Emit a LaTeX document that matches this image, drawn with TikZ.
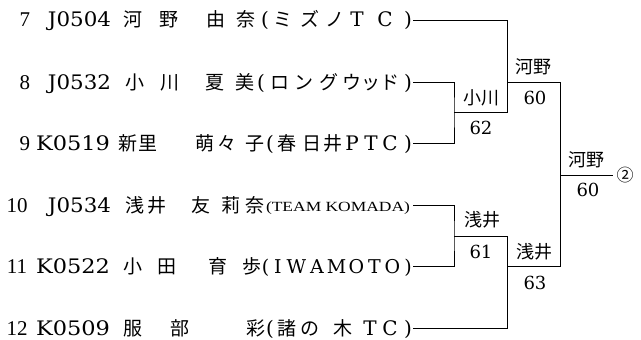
\documentclass[tikz,border=0pt]{standalone}
\usepackage{fontspec}
\usepackage{graphicx}
\setmainfont{DejaVu Serif}
\newfontfamily\jpf{Noto Sans CJK JP}
\newfontfamily\tms{Liberation Serif}
\newcommand\fitw[2]{\resizebox{#1pt}{\height}{#2}}
\tikzset{
  bs/.style={inner sep=0pt, outer sep=0pt, anchor=base},
  jp/.style={bs, font=\jpf\fontsize{19}{19}\selectfont},
  lt/.style={bs, font=\fontsize{20}{20}\selectfont},
  lts/.style={bs, font=\fontsize{19}{19}\selectfont},
  nm/.style={bs, font=\tms\fontsize{21}{21}\selectfont},
  seg/.style={inner sep=0pt, outer sep=0pt, anchor=base west, font=\fontsize{20}{20}\selectfont},
  lbj/.style={inner sep=0pt, font=\jpf\fontsize{18}{18}\selectfont},
  lbn/.style={inner sep=0pt, font=\fontsize{18}{18}\selectfont},
  wire/.style={line width=0.8pt}
}
\begin{document}
\begin{tikzpicture}[x=1pt,y=-1pt]
\path[use as bounding box] (0,0) rectangle (641,340);
% row 7
\node[nm] (n7no) at (25,27) {7};
\node[seg] (n7id) at (48,27) {\fitw{63}{J0504}};
\foreach \x/\c [count=\i] in {133/河,169/野,216/由,246/奈,283/ミ,310/ズ,335/ノ}
  \node[jp] (n7j\i) at (\x,27) {\c};
\foreach \x/\c [count=\i] in {265/(,357/T,385/C,408/)}
  \node[lt] (n7l\i) at (\x,27) {\c};
% row 8
\node[nm] (n8no) at (25,89) {8};
\node[seg] (n8id) at (48,89) {\fitw{63}{J0532}};
\foreach \x/\c [count=\i] in {135/小,170/川,215/夏,245/美,280/ロ,304/ン,329/グ,352/ウ,371/ッ,390/ド}
  \node[jp] (n8j\i) at (\x,89) {\c};
\foreach \x/\c [count=\i] in {261/(,408/)}
  \node[lt] (n8l\i) at (\x,89) {\c};
% row 9
\node[nm] (n9no) at (25,150) {9};
\node[seg] (n9id) at (36,150) {\fitw{74}{K0519}};
\foreach \x/\c [count=\i] in {128/新,148/里,205/萌,227/々,255/子,287/春,312/日,333/井}
  \node[jp] (n9j\i) at (\x,150) {\c};
\foreach \x/\c [count=\i] in {270/(,352/P,371/T,390/C,408/)}
  \node[lt] (n9l\i) at (\x,150) {\c};
% row 10
\node[nm] (n10no) at (17,212) {10};
\node[seg] (n10id) at (48,212) {\fitw{63}{J0534}};
\foreach \x/\c [count=\i] in {135/浅,157/井,201/友,231/莉,255/奈}
  \node[jp] (n10j\i) at (\x,212) {\c};
\node[seg, font=\tms\fontsize{14}{14}\selectfont] (n10club) at (266,211) {\fitw{144}{(TEAM KOMADA)}};
% row 11
\node[nm] (n11no) at (17,273) {11};
\node[seg] (n11id) at (36,273) {\fitw{74}{K0522}};
\foreach \x/\c [count=\i] in {133/小,167/田,218/育,252/歩}
  \node[jp] (n11j\i) at (\x,273) {\c};
\foreach \x/\c [count=\i] in {265.5/(,278/I,296.5/W,317/A,336.5/M,356.5/O,374.5/T,392.5/O,408/)}
  \node[lts] (n11l\i) at (\x,273) {\c};
% row 12
\node[nm] (n12no) at (17,335) {12};
\node[seg] (n12id) at (36,335) {\fitw{74}{K0509}};
\foreach \x/\c [count=\i] in {133/服,180/部,256/彩,287/諸,310/の,343/木}
  \node[jp] (n12j\i) at (\x,335) {\c};
\foreach \x/\c [count=\i] in {270/(,370/T,390/C,408/)}
  \node[lt] (n12l\i) at (\x,335) {\c};
% bracket coordinates
\coordinate (e7) at (413,20);
\coordinate (e8) at (413,82);
\coordinate (e9) at (413,143);
\coordinate (e10) at (413,205);
\coordinate (e11) at (413,266);
\coordinate (e12) at (413,328);
\coordinate (q1) at (454,112);
\coordinate (s1) at (507,112);
\coordinate (t1) at (507,82);
\coordinate (q2) at (454,236);
\coordinate (s2) at (507,236);
\coordinate (t2) at (507,266);
\coordinate (u2) at (560,266);
\coordinate (f) at (560,175);
\coordinate (fend) at (613,175);
\draw[wire] (e8) -| (q1) |- (e9);
\draw[wire] (e7) -| (s1) -- (q1);
\draw[wire] (t1) -| (u2) -- (t2);
\draw[wire] (e10) -| (q2) |- (e11);
\draw[wire] (q2) -- (s2) |- (e12);
\draw[wire] (f) -- (fend);
% labels
\node[lbj] (w1) at (481,98) {小川};
\node[lbn] (sc1) at (481,128) {62};
\node[lbj] (w2) at (533,67) {河野};
\node[lbn] (sc2) at (535,98) {60};
\node[lbj] (w3) at (482,220) {浅井};
\node[lbn] (sc3) at (481,252) {61};
\node[lbj] (w4) at (534,252) {浅井};
\node[lbn] (sc4) at (535,283) {63};
\node[lbj] (w5) at (586,160) {河野};
\node[lbn] (sc5) at (588,190) {60};
\node[inner sep=0pt, font=\jpf\fontsize{17}{17}\selectfont] (rank) at (625,175) {②};
\end{tikzpicture}
\end{document}
